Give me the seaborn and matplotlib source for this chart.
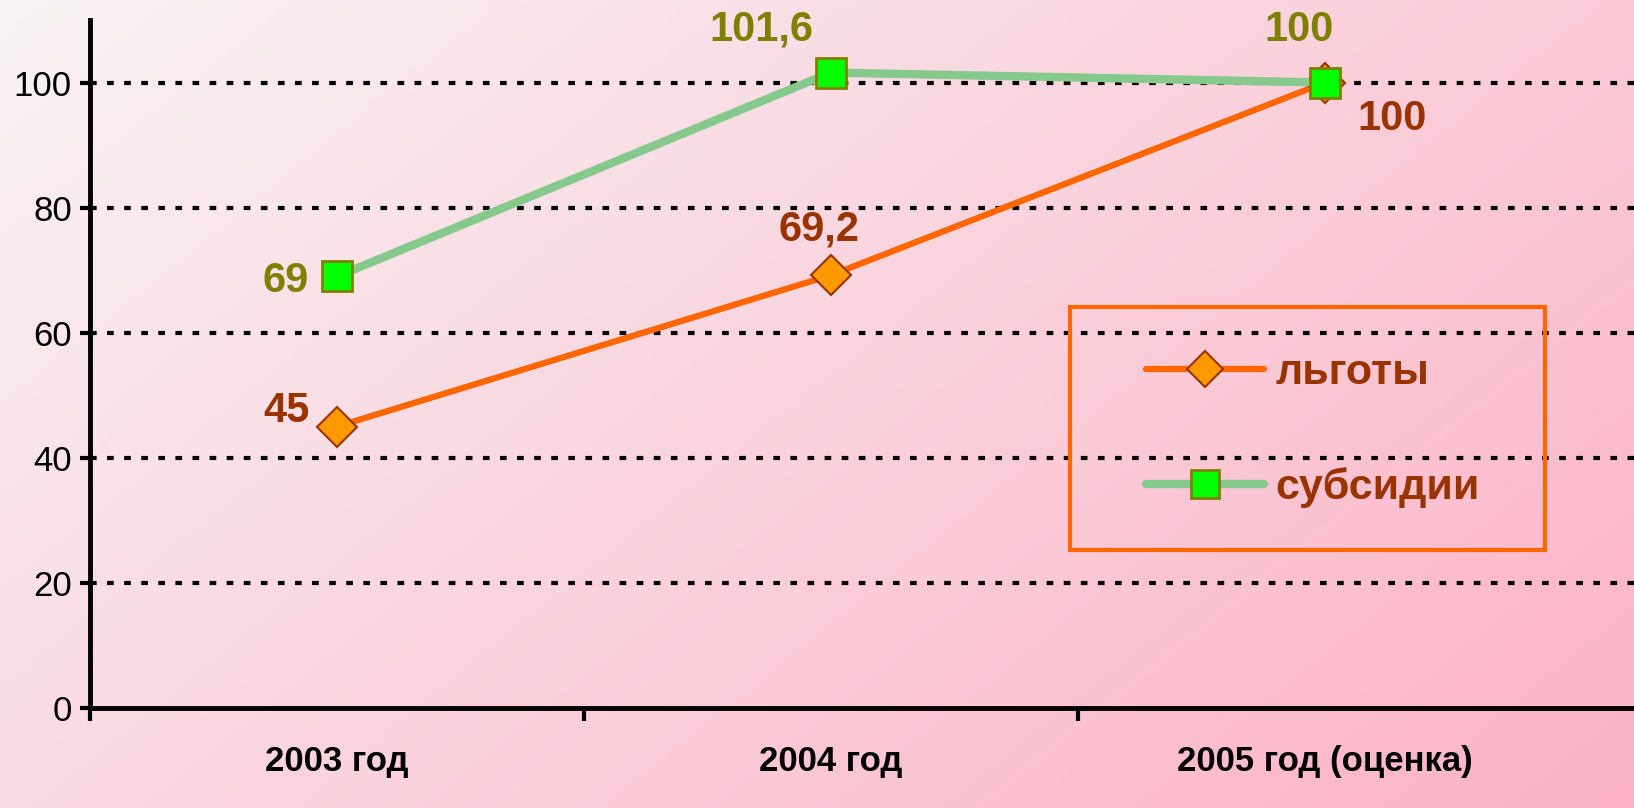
import matplotlib
matplotlib.use("Agg")
import matplotlib.pyplot as plt
import numpy as np
import pandas as pd
import seaborn as sns
from matplotlib.colors import LinearSegmentedColormap
from matplotlib.patches import Rectangle

# data
years = ["2003 год", "2004 год", "2005 год (оценка)"]
lgoty = [45, 69.2, 100]
subsidii = [69, 101.6, 100]
lgoty_labels = ["45", "69,2", "100"]
subsidii_labels = ["69", "101,6", "100"]
y_ticks = [0, 20, 40, 60, 80, 100]

df = pd.DataFrame({
    "x": list(range(len(years))) * 2,
    "value": lgoty + subsidii,
    "series": ["льготы"] * len(years) + ["субсидии"] * len(years),
})

sns.set_style("white")
plt.rcParams["font.family"] = ["Liberation Sans", "DejaVu Sans"]

W, H = 1634, 808
fig = plt.figure(figsize=(W / 100, H / 100), dpi=100)

# diagonal pink gradient background
bg = fig.add_axes([0, 0, 1, 1], zorder=-10)
gx, gy = np.meshgrid(np.linspace(0, 1, 400), np.linspace(0, 1, 200))
grad = 0.62 * gx + 0.38 * gy
cmap = LinearSegmentedColormap.from_list("bg", ["#f8f3f4", "#fcb2c6"])
bg.imshow(grad, cmap=cmap, aspect="auto", extent=[0, 1, 0, 1], origin="upper")
bg.axis("off")

ax = fig.add_axes([90 / W, 100 / H, 1 - 90 / W, 688 / H])
ax.patch.set_alpha(0)

# series drawn through seaborn, styled per line
styles = {
    "субсидии": dict(color="#86c98c", linewidth=6, marker="s", markersize=22,
                     markerfacecolor="#00ff00", markeredgecolor="#808000",
                     markeredgewidth=2, zorder=3),
    "льготы": dict(color="#ff6600", linewidth=4.5, marker="D", markersize=20,
                   markerfacecolor="#ff9900", markeredgecolor="#993300",
                   markeredgewidth=1.5, zorder=2),
}
for name in ["субсидии", "льготы"]:
    sub = df[df["series"] == name]
    sns.lineplot(data=sub, x="x", y="value", ax=ax, label=name, **styles[name])
handles, labels = ax.get_legend_handles_labels()
ax.get_legend().remove()

xs = np.arange(len(years))

# data labels
lab_kw = dict(textcoords="offset points", ha="center", va="center",
              fontsize=30, fontweight="bold")
offs_l = [(-36, 11), (-9, 33), (48, -26)]
offs_s = [(-37, -3), (-50, 31), (-19, 38)]
for i in range(len(years)):
    ax.annotate(lgoty_labels[i], (xs[i], lgoty[i]), xytext=offs_l[i],
                color="#993300", **lab_kw)
    ax.annotate(subsidii_labels[i], (xs[i], subsidii[i]), xytext=offs_s[i],
                color="#808000", **lab_kw)

ax.set_xlim(-0.5, -0.5 + 1544 / 494)
ax.set_ylim(0, 110)
ax.set_yticks(y_ticks)
ax.set_yticklabels([str(v) for v in y_ticks], fontsize=25, color="black")
ax.set_xticks(xs)
ax.set_xticklabels(years, fontsize=25, fontweight="bold", color="black")
ax.set_xticks([-0.5, 0.5, 1.5], minor=True)
ax.tick_params(axis="x", which="major", bottom=True, length=0, pad=27)
ax.tick_params(axis="x", which="minor", bottom=True, length=9, width=3,
               direction="out", color="black")
ax.tick_params(axis="y", left=True, length=7, width=3, direction="out",
               color="black", pad=6)
ax.set_xlabel("")
ax.set_ylabel("")

for v in y_ticks[1:]:
    ax.axhline(v, color="black", linestyle=(0, (1.6, 2.5)), linewidth=3,
               zorder=1)

for s in ["top", "right"]:
    ax.spines[s].set_visible(False)
for s in ["left", "bottom"]:
    ax.spines[s].set_linewidth(3.5)
    ax.spines[s].set_color("black")
    ax.spines[s].set_zorder(4)

order = [labels.index("льготы"), labels.index("субсидии")]
leg = fig.legend([handles[i] for i in order], [labels[i] for i in order],
                 loc="center left",
                 bbox_to_anchor=(1146 / W, 1 - 430.5 / H),
                 frameon=False, prop={"weight": "bold", "size": 31},
                 handlelength=2.75, handletextpad=0.25, labelspacing=1.74,
                 borderpad=0, borderaxespad=0, markerscale=0.9)
for t in leg.get_texts():
    t.set_color("#993300")

fig.patches.append(Rectangle((1070 / W, 1 - 550 / H), 475 / W, 243 / H,
                             transform=fig.transFigure, fill=False,
                             edgecolor="#ff6600", linewidth=3))

fig.savefig("out.png", dpi=100)
